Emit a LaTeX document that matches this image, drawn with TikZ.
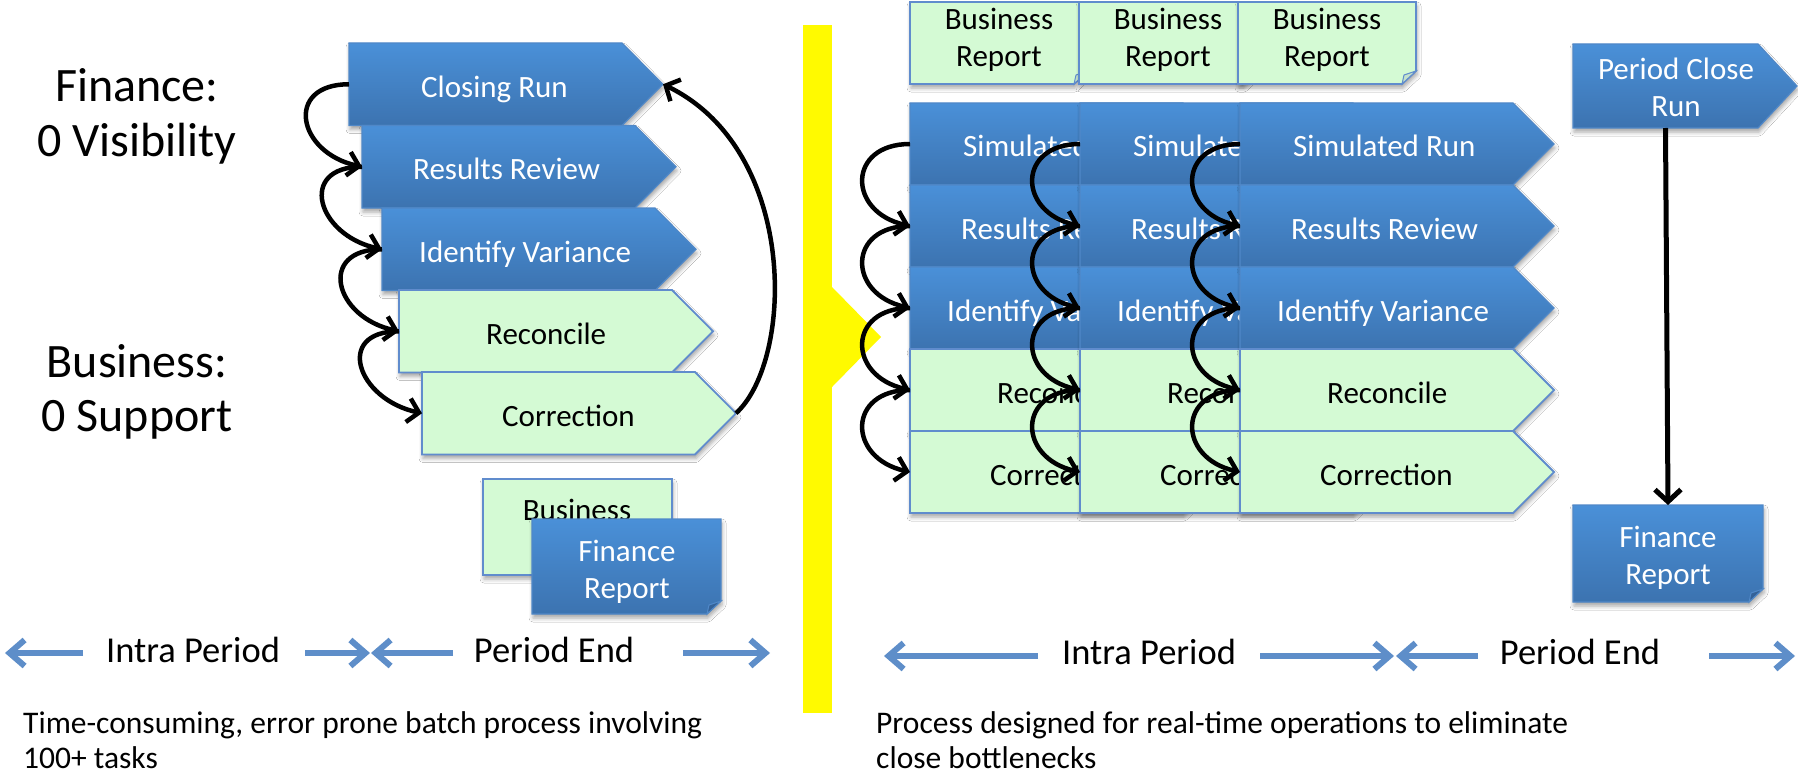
\documentclass[tikz,border=0pt]{standalone}
\usepackage{fontspec}
\setmainfont{Carlito}
\usetikzlibrary{arrows.meta,shadows.blur}

\definecolor{bluetop}{RGB}{74,144,216}
\definecolor{bluebot}{RGB}{60,115,176}
\definecolor{blueedge}{RGB}{80,136,200}
\definecolor{blueflap}{RGB}{52,98,152}
\definecolor{greenfill}{RGB}{212,250,212}
\definecolor{greenedge}{RGB}{96,140,205}
\definecolor{greenflap}{RGB}{196,226,204}
\definecolor{flowline}{RGB}{94,142,201}
\definecolor{marker}{RGB}{255,250,0}

\newcommand\bxfont{\fontsize{31}{37}\selectfont}
\newcommand\sidefont{\fontsize{48}{55}\selectfont}
\newcommand\tlfont{\fontsize{36.5}{42}\selectfont}
\newcommand\capfont{\fontsize{31.5}{35}\selectfont}

\tikzset{
  softshadow/.style={blur shadow={shadow xshift=1pt,shadow yshift=-4pt,shadow blur radius=4pt,shadow opacity=35}},
  bluebox/.style={top color=bluetop,bottom color=bluebot,draw=blueedge,line width=1.2pt,softshadow},
  greenbox/.style={fill=greenfill,draw=greenedge,line width=1.8pt,softshadow},
  blueflap/.style={fill=blueflap,draw=blueedge,line width=1pt},
  greenflap/.style={fill=greenflap,draw=greenedge,line width=1pt},
  bluetext/.style={text=white,font=\bxfont,inner sep=0pt,anchor=base},
  greentext/.style={text=black,font=\bxfont,inner sep=0pt,anchor=base},
  holder/.style={inner sep=0pt,outer sep=0pt,anchor=north west},
  sidelabel/.style={font=\sidefont,inner sep=0pt,anchor=base},
  tllabel/.style={font=\tlfont,inner sep=0pt,anchor=base},
  caption/.style={font=\capfont,inner sep=0pt,anchor=base west},
  loopline/.style={line width=4.5pt,black,-{Straight Barb[length=11pt,width=24pt]}},
  downline/.style={line width=5pt,black,-{Straight Barb[length=12pt,width=26pt]}},
  flowarrow/.style={line width=6pt,flowline,-{Straight Barb[length=15pt,width=26pt]}}
}

% process step: name, left, top, height, colour, label start offset, label (or its uncovered part)
\newcommand\procbox[7]{%
  \path[#5box] (#2,#3) -- ++(273,0) -- ++(41,{#4/2}) -- ++(-41,{#4/2}) -- ++(-273,0) -- cycle;
  \node[holder,minimum width=273pt,minimum height=#4pt] (#1) at (#2,#3) {};
  \coordinate (#1-tip) at ({#2+314},{#3+#4/2});
  \node[#5text,anchor=base west] (#1-t) at ({#2+#6},{#3+#4/2+13}) {#7};
}

% report sheet with a folded corner: name, x1, y1, x2, y2, colour
\newcommand\foldnote[6]{%
  \path[#6box] (#2,#3) -- (#4,#3) -- (#4,{#5-13}) -- ({#4-14},#5) -- (#2,#5) -- cycle;
  \path[#6flap] ({#4-14},#5) -- ({#4-12},{#5-9}) -- (#4,{#5-13}) -- cycle;
  \node[holder,minimum width={#4pt-#2pt},minimum height={#5pt-#3pt}] (#1) at (#2,#3) {};
}

\begin{document}
\begin{tikzpicture}[x=1pt,y=-1pt]
\useasboundingbox (0,0) rectangle (1798,773);
\fill[white] (0,0) rectangle (1798,773);

% ---------- current process ----------
\node[sidelabel] (fin1) at (137,102) {Finance:};
\node[sidelabel] (fin2) at (137,157) {0 Visibility};
\node[sidelabel] (bus1) at (137,377) {Business:};
\node[sidelabel] (bus2) at (137,431) {0 Support};

\procbox{cr}{349}{43}{82.5}{blue}{72}{Closing Run}
\procbox{rr}{362}{125.5}{82.5}{blue}{51}{Results Review}
\procbox{iv}{382}{208}{82.5}{blue}{37}{Identify Variance}
\procbox{rc}{399}{290}{82.5}{green}{87}{Reconcile}
\procbox{co}{422}{372}{82.5}{green}{80}{Correction}

\draw[loopline] (cr.west) .. controls +(-65,0) and +(-65,-14) .. (rr.west);
\draw[loopline] (rr.west) .. controls +(-65,0) and +(-65,-14) .. (iv.west);
\draw[loopline] (iv.west) .. controls +(-65,0) and +(-65,-14) .. (rc.west);
\draw[loopline] (rc.west) .. controls +(-65,0) and +(-65,-14) .. (co.west);
\draw[loopline] (co-tip) .. controls +(58,-53) and +(136,66) .. (cr-tip);

\foldnote{brl}{483}{479}{672}{575}{green}
\node[greentext] (brl-a) at (577,520) {Business};
\foldnote{frl}{532}{519}{721}{614}{blue}
\node[bluetext] (frl-a) at (627,561) {Finance};
\node[bluetext] (frl-b) at (627,598) {Report};

\coordinate (la1) at (83,653);   \coordinate (la1t) at (5,653);
\coordinate (la2) at (305,653);  \coordinate (la2t) at (370,653);
\coordinate (la3) at (453,653);  \coordinate (la3t) at (371,653);
\coordinate (la4) at (683,653);  \coordinate (la4t) at (770,653);
\draw[flowarrow] (la1) -- (la1t);
\draw[flowarrow] (la2) -- (la2t);
\draw[flowarrow] (la3) -- (la3t);
\draw[flowarrow] (la4) -- (la4t);
\node[tllabel] (lintra) at (193,662) {Intra Period};
\node[tllabel] (lend) at (554,662) {Period End};

\node[caption] (lcap1) at (23,733) {Time-consuming, error prone batch process involving};
\node[caption] (lcap2) at (23,768) {100+ tasks};

% ---------- divider ----------
\fill[marker] (803,25) rectangle (832,713);
\fill[marker] (832,287) -- (881,337) -- (832,387) -- cycle;

% ---------- redesigned process ----------
\foldnote{br1}{910}{2}{1088}{84}{green}
\node[greentext] (br1-a) at (999,30) {Business};
\node[greentext] (br1-b) at (999,67) {Report};
\foldnote{br2}{1079}{2}{1257}{84}{green}
\node[greentext] (br2-a) at (1168,30) {Business};
\node[greentext] (br2-b) at (1168,67) {Report};
\foldnote{br3}{1238}{2}{1416}{84}{green}
\node[greentext] (br3-a) at (1327,30) {Business};
\node[greentext] (br3-b) at (1327,67) {Report};

% first run (mostly covered by the second)
\procbox{a1}{910}{103}{82}{blue}{53}{Simulated}
\procbox{a2}{910}{185}{82}{blue}{51}{Results Re}
\procbox{a3}{910}{267}{82}{blue}{37}{Identify Va}
\procbox{a4}{910}{349}{82}{green}{87}{Reconc}
\procbox{a5}{910}{431}{82}{green}{80}{Correct}
% second run (mostly covered by the third)
\procbox{b1}{1080}{103}{82}{blue}{53}{Simulate}
\procbox{b2}{1080}{185}{82}{blue}{51}{Results R}
\procbox{b3}{1080}{267}{82}{blue}{37}{Identify Va}
\procbox{b4}{1080}{349}{82}{green}{87}{Recon}
\procbox{b5}{1080}{431}{82}{green}{80}{Correc}
% third run
\procbox{c1}{1240}{103}{82}{blue}{53}{Simulated Run}
\procbox{c2}{1240}{185}{82}{blue}{51}{Results Review}
\procbox{c3}{1240}{267}{82}{blue}{37}{Identify Variance}
\procbox{c4}{1240}{349}{82}{green}{87}{Reconcile}
\procbox{c5}{1240}{431}{82}{green}{80}{Correction}

\foreach \c in {a,b,c}{
  \foreach \i/\j in {1/2,2/3,3/4,4/5}{
    \draw[loopline] (\c\i.west) .. controls +(-63,0) and +(-63,-14) .. (\c\j.west);
  }
}

\path[bluebox] (1573,44) -- (1758,44) -- (1797,86) -- (1758,128) -- (1573,128) -- cycle;
\node[holder,minimum width=185pt,minimum height=84pt] (pcr) at (1573,44) {};
\node[bluetext] (pcr-a) at (1676,80) {Period Close};
\node[bluetext] (pcr-b) at (1676,116.5) {Run};

\foldnote{frr}{1573}{505}{1763}{602}{blue}
\node[bluetext] (frr-a) at (1668,547) {Finance};
\node[bluetext] (frr-b) at (1668,584) {Report};

\draw[downline] (pcr.south) -- (frr.north);

\coordinate (ra1) at (1038,656);  \coordinate (ra1t) at (884,656);
\coordinate (ra2) at (1260,656);  \coordinate (ra2t) at (1394,656);
\coordinate (ra3) at (1478,656);  \coordinate (ra3t) at (1396,656);
\coordinate (ra4) at (1709,656);  \coordinate (ra4t) at (1795,656);
\draw[flowarrow] (ra1) -- (ra1t);
\draw[flowarrow] (ra2) -- (ra2t);
\draw[flowarrow] (ra3) -- (ra3t);
\draw[flowarrow] (ra4) -- (ra4t);
\node[tllabel] (rintra) at (1149,664) {Intra Period};
\node[tllabel] (rend) at (1580,664) {Period End};

\node[caption] (rcap1) at (876,733) {Process designed for real-time operations to eliminate};
\node[caption] (rcap2) at (876,768) {close bottlenecks};
\end{tikzpicture}
\end{document}
